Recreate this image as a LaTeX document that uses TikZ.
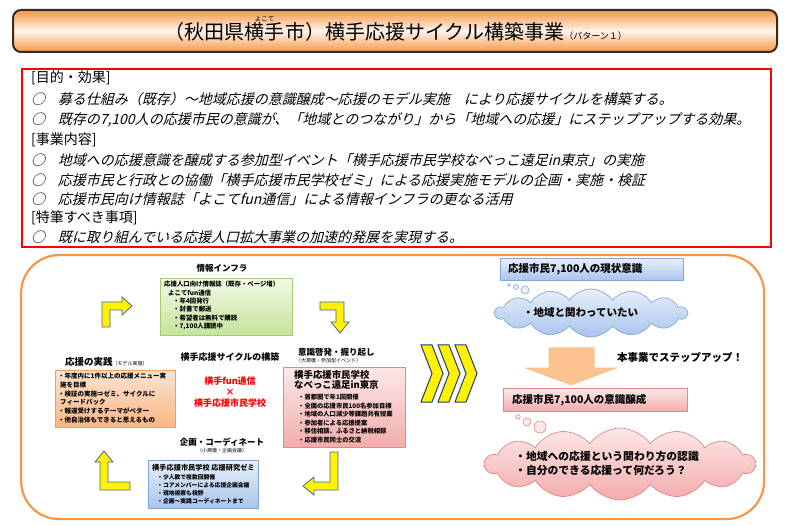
\documentclass[tikz,border=0pt]{standalone}
\usepackage{fontspec}
\setmainfont{Noto Sans CJK JP}
\newfontfamily\slantjp[FakeSlant=0.25]{Noto Sans CJK JP}
\usetikzlibrary{positioning}
\usetikzlibrary{shapes.symbols}

\definecolor{barorange}{HTML}{F79646}
\definecolor{barlight}{HTML}{FFF4EC}
\definecolor{barline}{HTML}{3B2A1C}
\definecolor{arrowblue}{HTML}{3F64A8}
\definecolor{chevblue}{HTML}{1F3A78}
\definecolor{greentop}{HTML}{F3F9E6}
\definecolor{greenbot}{HTML}{C6E39C}
\definecolor{greenline}{HTML}{A3CC74}
\definecolor{orangetop}{HTML}{FDE4D0}
\definecolor{orangebot}{HTML}{F8B684}
\definecolor{orangeline}{HTML}{F0A060}
\definecolor{pinktop}{HTML}{FDE8E8}
\definecolor{pinkbot}{HTML}{F3ABAB}
\definecolor{pinkline}{HTML}{DC8A8A}
\definecolor{bluetop}{HTML}{E8F0FA}
\definecolor{bluebot}{HTML}{A7C4EC}
\definecolor{blueline}{HTML}{84A6D6}
\definecolor{steporange}{HTML}{F9C28E}

\newcommand\fsz[2]{\fontsize{#1}{#2}\selectfont}
\newcommand\circmark{○\hspace{0.9em}}

\tikzset{
  titlebar/.style={draw=barline, line width=2pt, rounded corners=8pt, top color=barorange, bottom color=barorange, middle color=barlight, minimum width=764, minimum height=42, inner sep=0pt},
  ttl/.style={inner sep=0pt, font=\fsz{20}{20}},
  goalbox/.style={draw=red, line width=1.8pt, anchor=north west, minimum width=749, minimum height=178, inner sep=0pt},
  head/.style={anchor=west, inner sep=0pt, font=\fsz{14}{14}},
  item/.style={anchor=west, inner sep=0pt, font=\slantjp\fsz{14}{14}},
  frame/.style={draw=barorange, line width=2.2pt, rounded corners=38pt, anchor=north west, minimum width=743, minimum height=264, inner sep=0pt},
  panel/.style={anchor=north west, inner sep=0pt, line width=0.6pt},
  gbox/.style={panel, draw=greenline, top color=greentop, bottom color=greenbot},
  obox/.style={panel, draw=orangeline, top color=orangetop, bottom color=orangebot},
  pbox/.style={panel, draw=pinkline, top color=pinktop, bottom color=pinkbot},
  bbox/.style={panel, draw=blueline, top color=bluetop, bottom color=bluebot},
  boxtxt/.style={anchor=north west, inner sep=0pt, align=left},
  lbl/.style={inner sep=0pt, font=\bfseries\fsz{8.5}{8.5}},
  tiny/.style={inner sep=0pt, font=\fsz{5}{5}},
  redtxt/.style={inner sep=0pt, text=red, font=\bfseries\fsz{9}{9}},
  bentarrow/.style={draw=arrowblue, fill=yellow, line width=0.8pt},
  chevron/.style={draw=chevblue, fill=yellow, line width=1pt},
  stepup/.style={fill=steporange, draw=white, line width=1pt},
  rtxt/.style={inner sep=0pt, font=\bfseries\fsz{10.5}{10.5}},
  thought/.style={cloud, cloud puffs=14, cloud puff arc=110, aspect=4, inner sep=0pt, line width=0.7pt},
  bubble/.style={circle, inner sep=0pt, line width=0.6pt}
}

\begin{document}
\begin{tikzpicture}[x=1pt,y=-1pt]
\useasboundingbox[fill=white] (0,0) rectangle (800,526);

\node[titlebar] (bar) at (395,31) {};
\node[ttl, anchor=west] (ttlA) at (164,32) {（秋田県};
\node[ttl, anchor=base west] (ttlB) at (ttlA.base east) {横手};
\node[ttl, anchor=base west] (ttlC) at (ttlB.base east) {市）横手応援サイクル構築事業};
\node[inner sep=0pt, font=\fsz{9}{9}, anchor=base west] (ttlD) at (ttlC.base east) {（パターン１）};
\node[inner sep=0pt, font=\fsz{6.5}{6.5}, above=0.5pt of ttlB] (ruby) {よこて};

\node[goalbox] (goal) at (21,68) {};
\node[head] (h1) at (31,78) {[目的・効果]};
\node[item] (i1) at (31,99) {\circmark 募る仕組み（既存）～地域応援の意識醸成～応援のモデル実施　により応援サイクルを構築する。};
\node[item] (i2) at (31,120) {\circmark 既存の7,100人の応援市民の意識が、「地域とのつながり」から「地域への応援」にステップアップする効果。};
\node[head] (h2) at (31,140) {[事業内容]};
\node[item] (i3) at (31,160) {\circmark 地域への応援意識を醸成する参加型イベント「横手応援市民学校なべっこ遠足in東京」の実施};
\node[item] (i4) at (31,180) {\circmark 応援市民と行政との協働「横手応援市民学校ゼミ」による応援実施モデルの企画・実施・検証};
\node[item] (i5) at (31,199) {\circmark 応援市民向け情報誌「よこてfun通信」による情報インフラの更なる活用};
\node[head] (h3) at (31,218) {[特筆すべき事項]};
\node[item] (i6) at (31,237) {\circmark 既に取り組んでいる応援人口拡大事業の加速的発展を実現する。};

\node[frame] (cycle) at (20,254) {};

\node[lbl] (infolbl) at (222,268) {情報インフラ};
\node[gbox, minimum width=132, minimum height=57] (info) at (160,278) {};
\node[boxtxt, font=\bfseries\fsz{6.4}{8.4}] (infotxt) at ([xshift=4pt,yshift=-3pt]info.north west) {応援人口向け情報誌（既存・ページ増）\\\hspace*{4pt}よこてfun通信\\\hspace*{9pt}・年4回発行\\\hspace*{9pt}・封書で郵送\\\hspace*{9pt}・希望者は無料で購読\\\hspace*{9pt}・7,100人講読中};

\node[lbl, anchor=base west, font=\bfseries\fsz{9.5}{9.5}] (practlbl) at (65,365) {応援の実践{\mdseries\fsz{5}{5}（モデル実施）}};
\node[obox, minimum width=120, minimum height=57] (practice) at (55,370) {};
\node[boxtxt, font=\bfseries\fsz{6.5}{8.7}] (practtxt) at ([xshift=3pt,yshift=-3pt]practice.north west) {・年度内に1件以上の応援メニュー実\\\hspace*{2pt}施を目標\\・検証の実施⇒ゼミ、サイクルに\\\hspace*{2pt}フィードバック\\・報道受けするテーマがベター\\・他自治体もできると思えるもの};

\node[lbl, font=\bfseries\fsz{9}{9}] (cyclelbl) at (230,357) {横手応援サイクルの構築};
\node[redtxt] (fun) at (230,381) {横手fun通信};
\node[redtxt] (times) at (230,392) {×};
\node[redtxt] (school) at (230,403) {横手応援市民学校};

\node[lbl, anchor=west] (eventlbl) at (298,352) {意識啓発・掘り起し};
\node[tiny, anchor=west] (eventsub) at (296,361) {（大規模・参加型イベント）};
\node[pbox, minimum width=122, minimum height=80] (event) at (283,367) {};
\node[boxtxt, font=\bfseries\fsz{9.4}{10.5}] (eventhead) at ([xshift=11pt,yshift=-3pt]event.north west) {横手応援市民学校\\なべっこ遠足in東京};
\node[boxtxt, font=\bfseries\fsz{6.3}{8.5}] (eventtxt) at ([xshift=15pt,yshift=-27pt]event.north west) {・首都圏で年1回開催\\・全国の応援市民100名参加目標\\・地域の人口減少等課題共有授業\\・参加者による応援提案\\・移住相談、ふるさと納税相談\\・応援市民同士の交流};

\node[lbl] (planlbl) at (222,442) {企画・コーディネート};
\node[tiny] (plansub) at (222,451) {（小規模・企画会議）};
\node[bbox, minimum width=110, minimum height=48] (plan) at (148,460) {};
\node[boxtxt, font=\bfseries\fsz{7.2}{7.2}] (planhead) at ([xshift=4pt,yshift=-4pt]plan.north west) {横手応援市民学校 応援研究ゼミ};
\node[boxtxt, font=\bfseries\fsz{5.8}{8}] (plantxt) at ([xshift=9pt,yshift=-14pt]plan.north west) {・少人数で複数回開催\\・コアメンバーによる応援企画会議\\・現地視察も視野\\・企画～実践コーディネートまで};

\draw[bentarrow] (102,327) -- (102,302) -- (122,302) -- (122,297) -- (132,306) -- (122,315) -- (122,310) -- (110,310) -- (110,327) -- cycle;
\draw[bentarrow] (320,302) -- (344,302) -- (344,322) -- (349,322) -- (340,333) -- (331,322) -- (336,322) -- (336,310) -- (320,310) -- cycle;
\draw[bentarrow] (330,452) -- (338,452) -- (338,490) -- (314,490) -- (314,495) -- (303,486) -- (314,477) -- (314,482) -- (330,482) -- cycle;
\draw[bentarrow] (130,490) -- (100,490) -- (100,462) -- (95,462) -- (104,451) -- (113,462) -- (108,462) -- (108,482) -- (130,482) -- cycle;

\foreach \dx in {0,17,34}
  \draw[chevron] (421+\dx,345) -- (432+\dx,345) -- (443+\dx,373.5) -- (432+\dx,402) -- (421+\dx,402) -- (432+\dx,373.5) -- cycle;

\node[bbox, minimum width=183, minimum height=22] (now) at (500,258) {};
\node[rtxt, anchor=west] (nowtxt) at (508,269) {応援市民7,100人の現状意識};
\node[bubble, draw=blueline, fill=bluetop, minimum size=3] (nowb1) at (509,285) {};
\node[bubble, draw=blueline, fill=bluetop, minimum size=5] (nowb2) at (516,287) {};
\node[bubble, draw=blueline, fill=bluetop, minimum size=8] (nowb3) at (525,290) {};
\node[thought, draw=blueline, top color=bluetop, bottom color=bluebot, minimum width=192, minimum height=48] (thinkA) at (591,313) {};
\node[rtxt, anchor=west] (thinkAtxt) at (523,313) {・地域と関わっていたい};

\draw[stepup] (548,347) -- (595,347) -- (595,367) -- (622,367) -- (571,386) -- (520,367) -- (548,367) -- cycle;
\node[rtxt, anchor=west] (steptxt) at (617,357) {本事業でステップアップ！};

\node[pbox, minimum width=184, minimum height=23] (after) at (503,388) {};
\node[rtxt, anchor=west] (aftertxt) at (512,400) {応援市民7,100人の意識醸成};
\node[bubble, draw=pinkline, fill=pinktop, minimum size=4.5] (afterb1) at (518,417) {};
\node[bubble, draw=pinkline, fill=pinktop, minimum size=8] (afterb2) at (527,422) {};
\node[bubble, draw=pinkline, fill=pinktop, minimum size=12] (afterb3) at (540,427) {};
\node[thought, draw=pinkline, top color=pinktop, bottom color=pinkbot, minimum width=270, minimum height=72] (thinkB) at (620,464) {};
\node[boxtxt, font=\bfseries\fsz{10.8}{14}] (thinkBtxt) at (515,451) {・地域への応援という関わり方の認識\\・自分のできる応援って何だろう？};
\end{tikzpicture}
\end{document}
